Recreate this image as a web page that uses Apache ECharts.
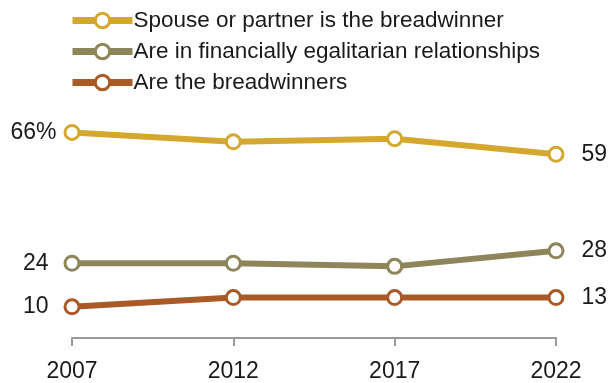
<!DOCTYPE html>
<html>
<head>
<meta charset="utf-8">
<script src="https://cdn.jsdelivr.net/npm/echarts@6/dist/echarts.min.js"></script>
<style>
  html, body { margin: 0; padding: 0; background: #fff; }
  #chart { width: 613px; height: 383px; }
</style>
</head>
<body>
<div id="chart"></div>
<script>
// Survey years on the x axis
const years = ['2007', '2012', '2017', '2022'];

// Share of respondents (%) in each arrangement
const seriesNames = [
  'Spouse or partner is the breadwinner',
  'Are in financially egalitarian relationships',
  'Are the breadwinners'
];
const spouseBreadwinner = [66, 63, 64, 59];
const egalitarian = [24, 24, 23, 28];
const selfBreadwinner = [10, 13, 13, 13];

const colors = ['#d4a72f', '#8e855b', '#a95a27'];
const FONT = 'Liberation Sans, Arial, sans-serif';

// Label only the first and last point of each line; the first gold label gets a % sign
function buildData(values, withPercent) {
  return values.map((v, i) => {
    const first = i === 0;
    const last = i === values.length - 1;
    if (!first && !last) return v;
    return {
      value: v,
      label: {
        show: true,
        position: first ? 'left' : 'right',
        distance: first ? (withPercent ? 7 : 15) : 17,
        formatter: (first && withPercent) ? '{c}%' : '{c}',
        fontSize: 23,
        fontFamily: FONT,
        color: '#1a1a1a'
      }
    };
  });
}

function makeSeries(name, values, color, withPercent) {
  return {
    name: name,
    type: 'line',
    data: buildData(values, withPercent),
    symbol: 'circle',
    symbolSize: 14,
    showAllSymbol: true,
    lineStyle: { color: color, width: 6 },
    itemStyle: { color: '#fff', borderColor: color, borderWidth: 3 },
    emphasis: { disabled: true },
    z: 3
  };
}

const chart = echarts.init(document.getElementById('chart'), null, { renderer: 'canvas' });
chart.setOption({
  animation: false,
  backgroundColor: '#fff',
  legend: {
    orient: 'vertical',
    left: 69,
    top: 9,
    padding: 0,
    itemWidth: 60,
    itemHeight: 18,
    itemGap: 8,
    data: seriesNames,
    lineStyle: { width: 7 },
    itemStyle: { borderWidth: 3 },
    textStyle: { fontSize: 22.5, fontFamily: FONT, color: '#1a1a1a', lineHeight: 22, padding: [0, 0, 0, -4] },
    selectedMode: false
  },
  grid: { left: 72, right: 57, top: 120, bottom: 40, containLabel: false },
  xAxis: {
    type: 'category',
    data: years,
    boundaryGap: false,
    axisLine: { lineStyle: { color: '#9a9a9a', width: 2 } },
    axisTick: { show: true, alignWithLabel: true, length: 8, lineStyle: { color: '#9a9a9a', width: 2 } },
    axisLabel: { fontSize: 23, fontFamily: FONT, color: '#1a1a1a', margin: 22 }
  },
  yAxis: {
    type: 'value',
    min: 0,
    max: 70,
    show: false
  },
  series: [
    makeSeries(seriesNames[0], spouseBreadwinner, colors[0], true),
    makeSeries(seriesNames[1], egalitarian, colors[1], false),
    makeSeries(seriesNames[2], selfBreadwinner, colors[2], false)
  ]
});
</script>
</body>
</html>
